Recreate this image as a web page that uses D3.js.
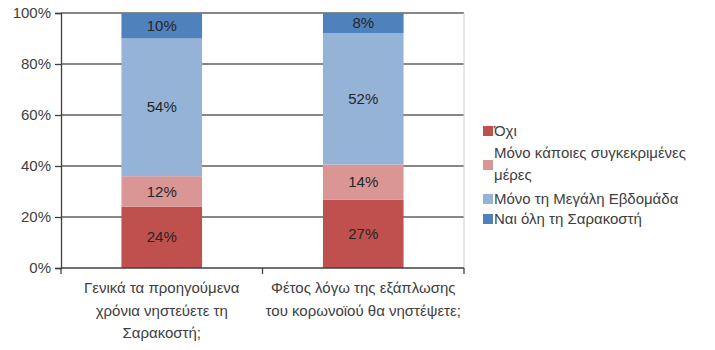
<!DOCTYPE html>
<html><head><meta charset="utf-8">
<script src="https://cdn.jsdelivr.net/npm/d3@7"></script>
<style>body{margin:0;background:#fff}svg{display:block}text{font-family:"Liberation Sans",Arial,sans-serif}</style>
</head><body>
<script>
const categories = [["Γενικά τα προηγούμενα","χρόνια νηστεύετε τη","Σαρακοστή;"],["Φέτος λόγω της εξάπλωσης","του κορωνοϊού θα νηστέψετε;"]];
const seriesNames = ["Όχι","Μόνο κάποιες συγκεκριμένες μέρες","Μόνο τη Μεγάλη Εβδομάδα","Ναι όλη τη Σαρακοστή"];
const oxi = [24, 27];
const kapoies = [12, 14];
const megali = [54, 52];
const nai = [10, 8];
const yTicks = [0, 0.2, 0.4, 0.6, 0.8, 1];
const colors = ["#C0504D","#D99694","#95B3D7","#4F81BD"];

const W = 715, H = 350;
const FS = 15;
const svg = d3.select("body").append("svg").attr("width", W).attr("height", H);
const m = {l: 61, r: 464, t: 13, b: 268};
const seriesVals = [oxi, kapoies, megali, nai];
const rows = categories.map((c, i) => { const o = {i}; seriesVals.forEach((s, k) => o[k] = s[i]); return o; });
const stack = d3.stack().keys([0,1,2,3]).offset(d3.stackOffsetExpand)(rows);

const x = d3.scaleBand().domain(d3.range(categories.length)).range([m.l, m.r]).paddingInner(0.6).paddingOuter(0.3);
const y = d3.scaleLinear().domain([0, 1]).range([m.b, m.t]);

// gridlines
svg.append("g").selectAll("line").data(yTicks.filter(d => d > 0)).join("line")
  .attr("x1", m.l).attr("x2", m.r).attr("y1", d => y(d)).attr("y2", d => y(d))
  .attr("stroke", "#5f5f5f").attr("stroke-width", 1.3);
// right border
svg.append("line").attr("x1", m.r).attr("x2", m.r).attr("y1", m.t).attr("y2", m.b).attr("stroke", "#d0d0d0");

// bars
stack.forEach((s, k) => {
  svg.append("g").selectAll("rect").data(s).join("rect")
    .attr("x", (d, i) => x(i)).attr("width", x.bandwidth())
    .attr("y", d => y(d[1])).attr("height", d => y(d[0]) - y(d[1]))
    .attr("fill", colors[k]);
  svg.append("g").selectAll("text").data(s).join("text")
    .attr("x", (d, i) => x(i) + x.bandwidth() / 2)
    .attr("y", d => (y(d[0]) + y(d[1])) / 2 + 5)
    .attr("text-anchor", "middle").attr("font-size", FS).attr("fill", "#262626")
    .text((d, i) => seriesVals[k][i] + "%");
});

// y axis
const ya = svg.append("g").attr("transform", `translate(${m.l},0)`)
  .call(d3.axisLeft(y).tickValues(yTicks).tickFormat(d3.format(".0%")).tickSize(6).tickPadding(4));
ya.select(".domain").attr("stroke", "#404040").attr("stroke-width", 1.3);
ya.selectAll(".tick line").attr("stroke", "#404040").attr("stroke-width", 1.3);
ya.selectAll(".tick text").attr("font-size", FS).attr("fill", "#404040").attr("font-family", "Liberation Sans, Arial, sans-serif");

// x axis
svg.append("line").attr("x1", m.l).attr("x2", m.r).attr("y1", m.b).attr("y2", m.b).attr("stroke", "#404040").attr("stroke-width", 1.3);
const bounds = [m.l, (m.l + m.r) / 2, m.r];
svg.append("g").selectAll("line").data(bounds).join("line")
  .attr("x1", d => d).attr("x2", d => d).attr("y1", m.b).attr("y2", m.b + 6)
  .attr("stroke", "#404040").attr("stroke-width", 1.3);
categories.forEach((lines, i) => {
  const cx = x(i) + x.bandwidth() / 2;
  const t = svg.append("text").attr("text-anchor", "middle").attr("font-size", FS).attr("fill", "#404040")
    .attr("x", cx).attr("y", 293);
  lines.forEach((l, j) => t.append("tspan").attr("x", cx).attr("dy", j ? 22.5 : 0).text(l));
});

// legend
const legY = [131, 165, 199, 219];
const legText = [["Όχι"], ["Μόνο κάποιες συγκεκριμένες", "μέρες"], ["Μόνο τη Μεγάλη Εβδομάδα"], ["Ναι όλη τη Σαρακοστή"]];
seriesNames.forEach((n, k) => {
  svg.append("rect").attr("x", 483).attr("y", legY[k] - 5).attr("width", 10).attr("height", 10).attr("fill", colors[k]);
  const t = svg.append("text").attr("font-size", FS).attr("fill", "#404040").attr("x", 494);
  const lines = legText[k];
  const y0 = lines.length === 1 ? legY[k] + 5 : legY[k] - 7;
  t.attr("y", y0);
  lines.forEach((l, j) => t.append("tspan").attr("x", 494).attr("dy", j ? 22 : 0).text(l));
});
</script>
</body></html>
